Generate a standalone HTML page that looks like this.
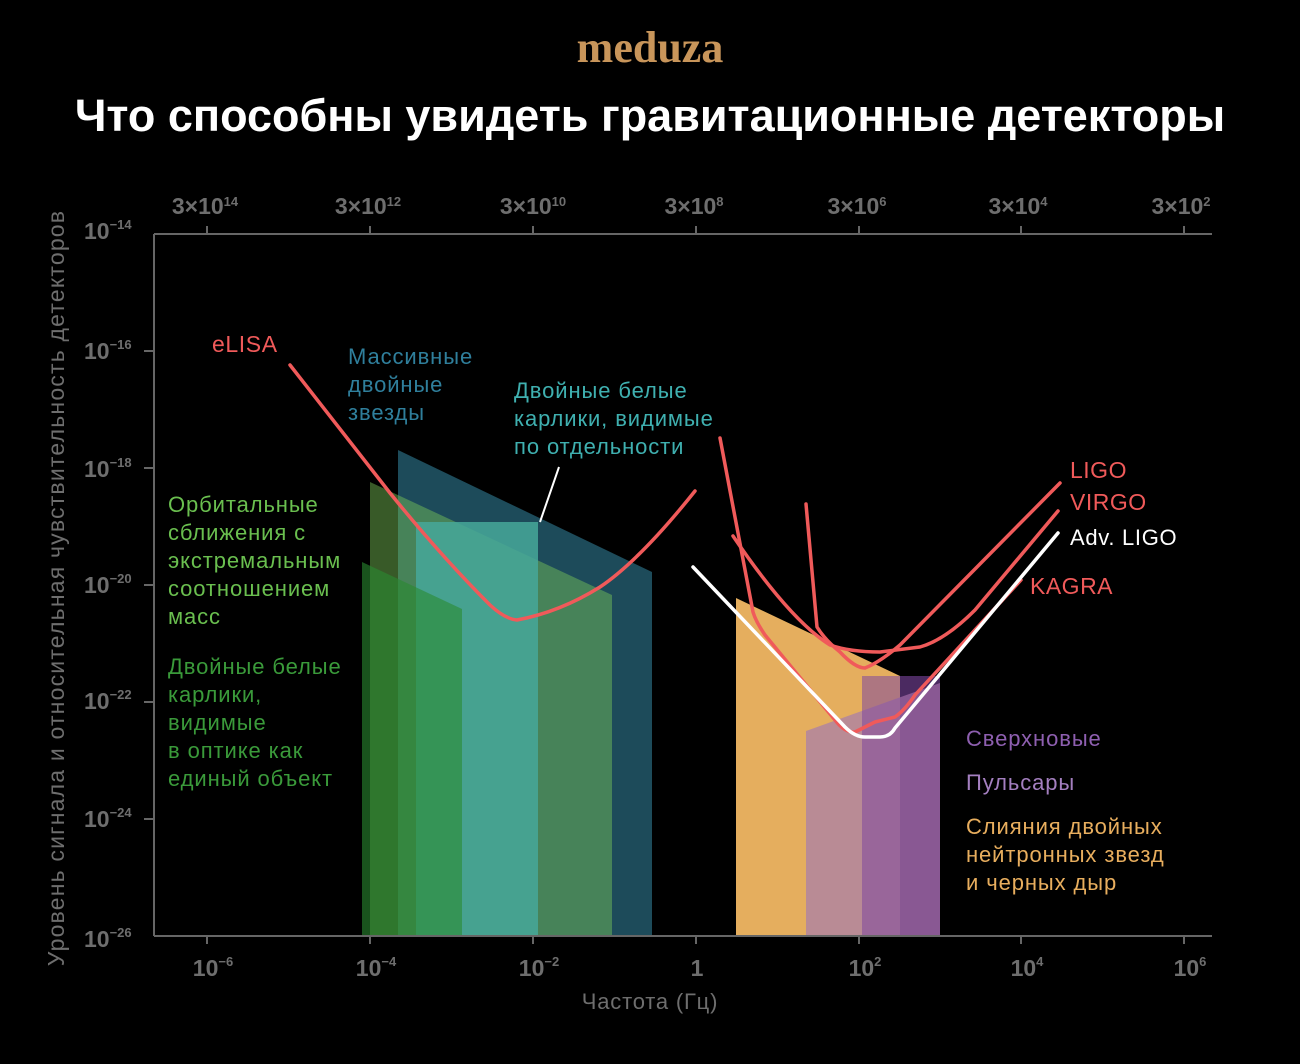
<!DOCTYPE html>
<html><head><meta charset="utf-8"><style>
html,body{margin:0;padding:0;background:#000;}
svg{display:block;}
text{font-family:"Liberation Sans","DejaVu Sans",sans-serif;}
.ax{fill:#6e6e6e;font-weight:bold;font-size:23px;}
.sup{font-size:13px;}
.lb{font-size:22px;letter-spacing:0.9px;}
</style></head><body>
<svg width="1300" height="1064" viewBox="0 0 1300 1064" xmlns="http://www.w3.org/2000/svg">
<rect width="1300" height="1064" fill="#000"/>
<text x="650" y="62" text-anchor="middle" font-weight="bold" font-size="44" fill="#c8955a" style="font-family:'Liberation Serif',serif">meduza</text>
<text x="650" y="131" text-anchor="middle" font-weight="bold" font-size="45" fill="#fff">Что способны увидеть гравитационные детекторы</text>

<polygon points="398,450 652,572 652,936 398,936" fill="#1d4b5a"/>
<polygon points="370,482 612,595 612,936 370,936" fill="#7cc859" fill-opacity="0.45"/>
<rect x="416" y="522" width="122" height="414" fill="#46a89a" fill-opacity="0.85"/>
<polygon points="362,562 462,609 462,936 362,936" fill="#2a8a30" fill-opacity="0.6"/>

<polygon points="736,598 900,676 900,936 736,936" fill="#e5ae5e"/>
<polygon points="806,731 940,683 940,936 806,936" fill="#b98b95"/>
<rect x="862" y="676" width="78" height="260" fill="#7f489e" fill-opacity="0.55"/>
<rect x="900" y="676" width="40" height="260" fill="#5a2f80" fill-opacity="0.25"/>

<g stroke="#666" stroke-width="2" fill="none">
<line x1="154" y1="234" x2="1212" y2="234"/>
<line x1="154" y1="234" x2="154" y2="936"/>
<line x1="154" y1="936" x2="1212" y2="936"/>
<line x1="207" y1="226" x2="207" y2="234"/><line x1="370" y1="226" x2="370" y2="234"/><line x1="533" y1="226" x2="533" y2="234"/><line x1="696" y1="226" x2="696" y2="234"/><line x1="859" y1="226" x2="859" y2="234"/><line x1="1021" y1="226" x2="1021" y2="234"/><line x1="1184" y1="226" x2="1184" y2="234"/>
<line x1="207" y1="936" x2="207" y2="944"/><line x1="370" y1="936" x2="370" y2="944"/><line x1="533" y1="936" x2="533" y2="944"/><line x1="696" y1="936" x2="696" y2="944"/><line x1="859" y1="936" x2="859" y2="944"/><line x1="1021" y1="936" x2="1021" y2="944"/><line x1="1184" y1="936" x2="1184" y2="944"/>
<line x1="144" y1="351" x2="154" y2="351"/><line x1="144" y1="468" x2="154" y2="468"/><line x1="144" y1="585" x2="154" y2="585"/><line x1="144" y1="702" x2="154" y2="702"/><line x1="144" y1="819" x2="154" y2="819"/>
</g>

<g class="ax">
<text x="84" y="239">10<tspan class="sup" dy="-10">−14</tspan></text>
<text x="84" y="359">10<tspan class="sup" dy="-10">−16</tspan></text>
<text x="84" y="477">10<tspan class="sup" dy="-10">−18</tspan></text>
<text x="84" y="593">10<tspan class="sup" dy="-10">−20</tspan></text>
<text x="84" y="709">10<tspan class="sup" dy="-10">−22</tspan></text>
<text x="84" y="827">10<tspan class="sup" dy="-10">−24</tspan></text>
<text x="84" y="947">10<tspan class="sup" dy="-10">−26</tspan></text>
</g>
<g class="ax" text-anchor="middle">
<text x="205" y="214">3×10<tspan class="sup" dy="-8">14</tspan></text>
<text x="368" y="214">3×10<tspan class="sup" dy="-8">12</tspan></text>
<text x="533" y="214">3×10<tspan class="sup" dy="-8">10</tspan></text>
<text x="694" y="214">3×10<tspan class="sup" dy="-8">8</tspan></text>
<text x="857" y="214">3×10<tspan class="sup" dy="-8">6</tspan></text>
<text x="1018" y="214">3×10<tspan class="sup" dy="-8">4</tspan></text>
<text x="1181" y="214">3×10<tspan class="sup" dy="-8">2</tspan></text>
</g>
<g class="ax" text-anchor="middle">
<text x="213" y="976">10<tspan class="sup" dy="-10">−6</tspan></text>
<text x="376" y="976">10<tspan class="sup" dy="-10">−4</tspan></text>
<text x="539" y="976">10<tspan class="sup" dy="-10">−2</tspan></text>
<text x="697" y="976">1</text>
<text x="865" y="976">10<tspan class="sup" dy="-10">2</tspan></text>
<text x="1027" y="976">10<tspan class="sup" dy="-10">4</tspan></text>
<text x="1190" y="976">10<tspan class="sup" dy="-10">6</tspan></text>
</g>
<text x="650" y="1009" text-anchor="middle" font-size="22" letter-spacing="0.8" fill="#6e6e6e">Частота (Гц)</text>
<text transform="translate(64,588) rotate(-90)" text-anchor="middle" font-size="23" letter-spacing="1.2" fill="#6e6e6e">Уровень сигнала и относительная чувствительность детекторов</text>

<g fill="none" stroke="#f05a5a" stroke-width="3.5" stroke-linecap="round" stroke-linejoin="round">
<path d="M290,365 L390,493 Q440,555 490,605 Q505,619 517,620 Q560,612 600,587 Q640,560 695,491"/>
<path d="M720,438 L753,612 Q756,622 765,635 L835,720 Q845,733 855,732 L875,722 L895,717 Q905,710 915,695 L1021,580"/>
<path d="M806,504 L817,627 Q825,640 840,652 Q855,668 865,668 Q880,662 900,645 L1060,483"/>
<path d="M733,536 Q790,620 830,645 Q850,652 880,652 L920,647 Q945,640 975,610 L1058,511"/>
</g>
<path d="M693,567 L845,727 Q855,737 865,737 L880,737 Q890,737 895,728 L1058,533" fill="none" stroke="#fff" stroke-width="3.5" stroke-linecap="round" stroke-linejoin="round"/>
<line x1="559" y1="467" x2="540" y2="522" stroke="#fff" stroke-width="2"/>

<text x="212" y="352" font-size="23" letter-spacing="0.6" fill="#f05a5a">eLISA</text>
<g class="lb" fill="#2f7f9c"><text x="348" y="364">Массивные</text><text x="348" y="392">двойные</text><text x="348" y="420">звезды</text></g>
<g class="lb" fill="#3fb0b0"><text x="514" y="398">Двойные белые</text><text x="514" y="426">карлики, видимые</text><text x="514" y="454">по отдельности</text></g>
<g class="lb" fill="#6abf4f"><text x="168" y="512">Орбитальные</text><text x="168" y="540">сближения с</text><text x="168" y="568">экстремальным</text><text x="168" y="596">соотношением</text><text x="168" y="624">масс</text></g>
<g class="lb" fill="#3a9a3a"><text x="168" y="674">Двойные белые</text><text x="168" y="702">карлики,</text><text x="168" y="730">видимые</text><text x="168" y="758">в оптике как</text><text x="168" y="786">единый объект</text></g>
<g font-size="23" letter-spacing="0.5" fill="#f05a5a"><text x="1070" y="478">LIGO</text><text x="1070" y="510">VIRGO</text><text x="1030" y="594">KAGRA</text></g>
<text x="1070" y="545" font-size="22" letter-spacing="0.7" fill="#fff">Adv. LIGO</text>
<text x="966" y="746" class="lb" fill="#8e5fb0">Сверхновые</text>
<text x="966" y="790" class="lb" fill="#a47fc0">Пульсары</text>
<g class="lb" fill="#e8ae5e"><text x="966" y="834">Слияния двойных</text><text x="966" y="862">нейтронных звезд</text><text x="966" y="890">и черных дыр</text></g>
</svg>
</body></html>
